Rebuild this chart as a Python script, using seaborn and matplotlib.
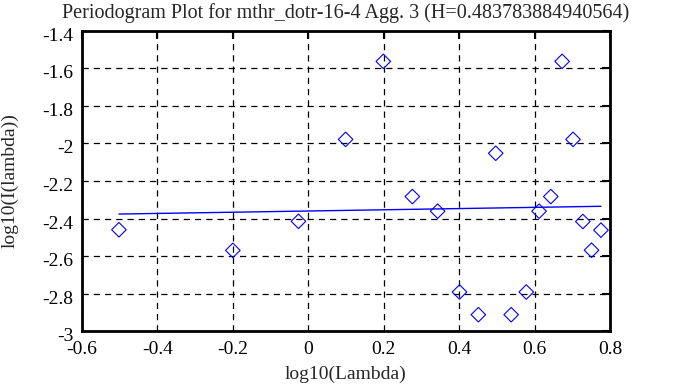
import numpy as np
import pandas as pd
import matplotlib
matplotlib.use("Agg")
import matplotlib.pyplot as plt
import matplotlib.transforms as mtransforms
import seaborn as sns
from matplotlib.ticker import FuncFormatter

# data
log_lambda = [-0.502, -0.200, -0.026, 0.099, 0.199, 0.276, 0.343, 0.401, 0.451, 0.497,
              0.538, 0.578, 0.612, 0.643, 0.673, 0.702, 0.728, 0.751, 0.776]
log_I = [-2.460, -2.570, -2.415, -1.978, -1.562, -2.283, -2.361, -2.792, -2.913, -2.052,
         -2.913, -2.792, -2.361, -2.283, -1.562, -1.978, -2.416, -2.569, -2.462]
H = 0.483783884940564
fit_intercept = -2.360   # fitted line value at log10(Lambda) = 0
x_ticks = [-0.6, -0.4, -0.2, 0, 0.2, 0.4, 0.6, 0.8]
y_ticks = [-3, -2.8, -2.6, -2.4, -2.2, -2, -1.8, -1.6, -1.4]
title = "Periodogram Plot for mthr_dotr-16-4 Agg. 3 (H=0.483783884940564)"

df = pd.DataFrame({"x": log_lambda, "y": log_I})

# regression line: slope = 1 - 2H
slope = 1 - 2 * H
fit_x = np.array([df["x"].min(), df["x"].max()])
fit_y = slope * fit_x + fit_intercept

sns.set_style("white")
plt.rcParams["font.family"] = ["Liberation Serif", "DejaVu Serif"]
plt.rcParams["axes.unicode_minus"] = False

fig = plt.figure(figsize=(6.73, 3.87), dpi=100)
ax = fig.add_axes([0.1218, 0.1447, 0.9064 - 0.1218, 0.9199 - 0.1447])

sns.scatterplot(data=df, x="x", y="y", marker="D", s=55, facecolor="none",
                edgecolor="blue", linewidth=0.8, ax=ax, zorder=3)
sns.lineplot(x=fit_x, y=fit_y, color="blue", linewidth=1.0, ax=ax, zorder=2)

ax.set_xlim(-0.6, 0.8)
ax.set_ylim(-3, -1.4)
ax.set_xticks(x_ticks)
ax.set_yticks(y_ticks)
fmt = FuncFormatter(lambda v, p: "%g" % round(v, 2))
ax.xaxis.set_major_formatter(fmt)
ax.yaxis.set_major_formatter(fmt)

ax.grid(True, color="black", linestyle=(0, (5, 4)), linewidth=0.9)
ax.tick_params(direction="in", length=6, width=1.5, top=True, right=True,
               labelsize=14, colors="black")
ax.tick_params(axis="x", pad=7)
ax.tick_params(axis="y", pad=6)
# y labels sit a little below their ticks in the reference
shift = mtransforms.ScaledTranslation(0, -3.5 / 100, fig.dpi_scale_trans)
for lbl in ax.get_yticklabels():
    lbl.set_transform(lbl.get_transform() + shift)
for sp in ax.spines.values():
    sp.set_color("black")
    sp.set_linewidth(2)

ax.set_title(title, fontsize=14.5, pad=9)
ax.set_xlabel("log10(Lambda)", fontsize=14)
ax.set_ylabel("log10(I(lambda))", fontsize=14)
ax.xaxis.set_label_coords(0.5, -0.115)
ax.yaxis.set_label_coords(-0.119, 0.5)

fig.savefig("out.png", dpi=100)
